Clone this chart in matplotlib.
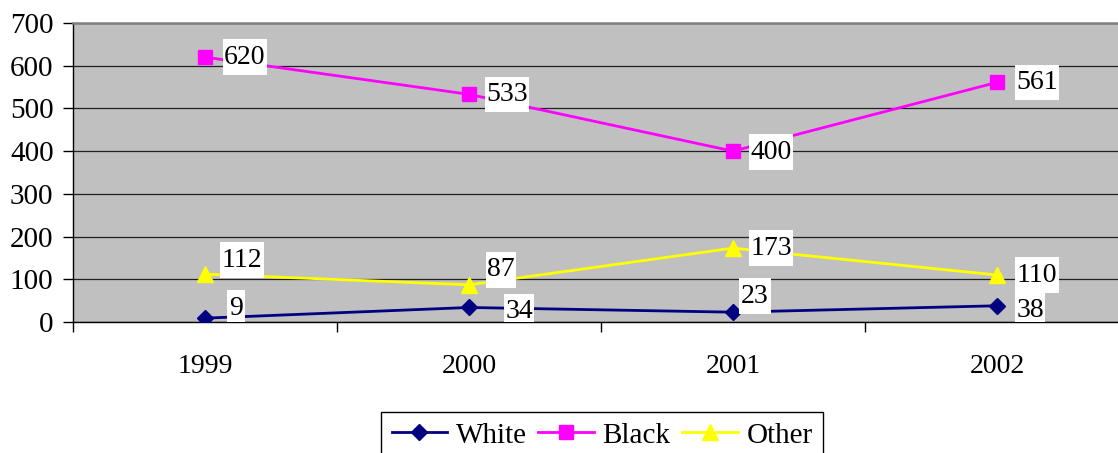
import matplotlib
matplotlib.use("Agg")
import matplotlib.pyplot as plt
from matplotlib.path import Path

plt.rcParams['font.family'] = ['Liberation Serif', 'DejaVu Serif']

years = ["1999", "2000", "2001", "2002"]
white = [9, 34, 23, 38]
black = [620, 533, 400, 561]
other = [112, 87, 173, 110]
y_ticks = [0, 100, 200, 300, 400, 500, 600, 700]

# label offsets from each point, in pixels (x right, y up)
white_off = [(31, 10), (50, -4), (22, 16), (33, -5)]
black_off = [(40, 0), (38, 0), (38, -1), (40, 0)]
other_off = [(37, 14), (32, 15), (38, 0), (40, 0)]


def label_box(x0, y0, width, height, mutation_size):
    """Plain rectangle with a small side margin and a taller top/bottom margin."""
    px = 0.06 * mutation_size
    py = 0.19 * mutation_size
    x0, x1 = x0 - px, x0 + width + px
    y0, y1 = y0 - py, y0 + height + py
    return Path([(x0, y0), (x1, y0), (x1, y1), (x0, y1), (x0, y0)], closed=True)


W, H = 1118, 453
fig = plt.figure(figsize=(W / 100, H / 100), dpi=100)
ax = fig.add_axes([73 / W, (H - 322) / H, 1056 / W, 299 / H])
ax.set_facecolor('#C0C0C0')

x = list(range(1, len(years) + 1))
series = [
    ("White", white, '#000080', 'D', 8, white_off),
    ("Black", black, '#FF00FF', 's', 10.5, black_off),
    ("Other", other, '#FFFF00', '^', 11, other_off),
]
for name, vals, col, mk, ms, offs in series:
    ax.plot(x, vals, color=col, lw=2.0, marker=mk, markersize=ms,
            markerfacecolor=col, markeredgecolor=col, label=name, zorder=3)
for name, vals, col, mk, ms, offs in series:
    for xi, v, (dx, dy) in zip(x, vals, offs):
        t = ax.annotate(str(v), xy=(xi, v), xytext=(dx, dy),
                        textcoords='offset pixels', ha='center', va='center',
                        fontsize=20, color='black', zorder=4,
                        annotation_clip=False,
                        bbox=dict(boxstyle=label_box, fc='white', ec='none'))
        t.set_clip_on(True)
        t.set_clip_box(ax.bbox)

ax.set_xlim(0.5, 4.5)
ax.set_ylim(0, 700)
ax.set_yticks(y_ticks)
ax.set_yticklabels([str(v) for v in y_ticks])
ax.yaxis.grid(True, color='#202020', lw=0.9)
ax.set_axisbelow(True)

ax.set_xticks(x)
ax.set_xticklabels(years)
ax.set_xticks([0.5, 1.5, 2.5, 3.5, 4.5], minor=True)
ax.tick_params(axis='x', which='major', length=0, pad=23, labelsize=20)
ax.tick_params(axis='x', which='minor', length=7.5, width=1, color='black')
ax.tick_params(axis='y', length=7, width=1, pad=7, labelsize=21)

ax.spines['right'].set_visible(False)
ax.spines['top'].set_color('#808080')
ax.spines['top'].set_linewidth(1.8)
ax.spines['left'].set_color('black')
ax.spines['bottom'].set_color('black')
ax.spines['left'].set_linewidth(1)
ax.spines['bottom'].set_linewidth(1)

leg = fig.legend(loc='upper center', bbox_to_anchor=(602 / W, 1 - 412 / H),
                 ncol=3, fontsize=21, frameon=True, fancybox=False,
                 edgecolor='black', framealpha=1, borderpad=0.35,
                 handlelength=1.9, handletextpad=0.3, columnspacing=0.4,
                 borderaxespad=0)
leg.get_frame().set_linewidth(1)

fig.savefig('out.png', dpi=100)
